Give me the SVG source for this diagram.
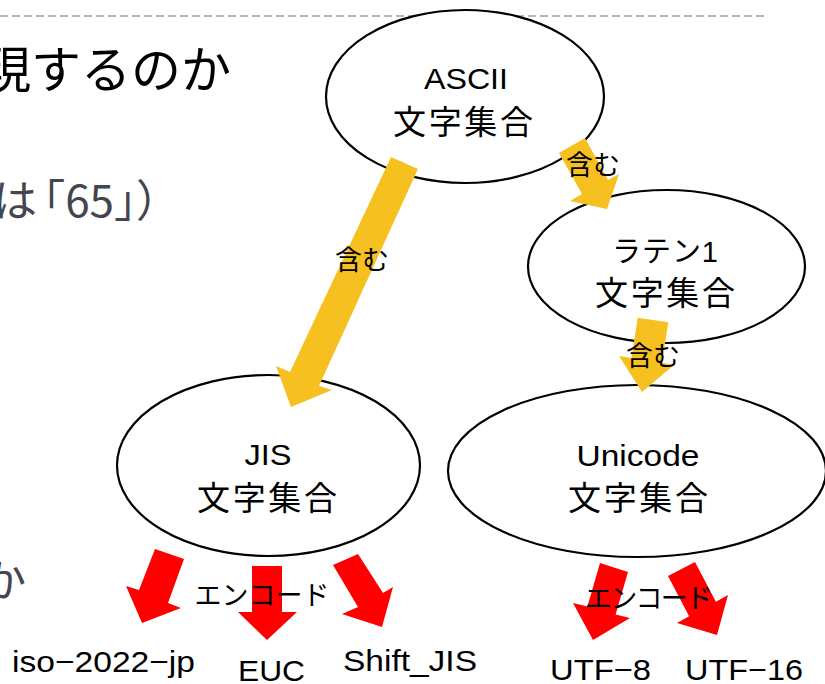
<svg xmlns="http://www.w3.org/2000/svg" width="825" height="684" viewBox="0 0 825 684">
<style>
.bg{font-family:"Noto Sans CJK JP","Noto Sans",sans-serif;fill:#45454f}
.node ellipse{fill:#fff;stroke:#000;stroke-width:2.2}
.lbl{font-family:"Noto Sans CJK JP","Noto Sans",sans-serif;fill:#000;text-anchor:middle}
.lat{font-family:"Liberation Sans","Noto Sans CJK JP",sans-serif;fill:#000;text-anchor:middle}
.yl{fill:#F6C120}
.rd{fill:#FF0000}
.out{font-family:"Liberation Sans","Noto Sans CJK JP",sans-serif;fill:#000;font-size:30px}
</style>
<rect width="825" height="684" fill="#fff"/>
<line x1="0" y1="16" x2="768" y2="16" stroke="#a6bbd0" stroke-width="2" stroke-dasharray="8 4"/>
<g id="background-text">
<text class="bg" x="231" y="88" font-size="50" text-anchor="end" style="fill:#000">現するのか</text>
<text class="bg" x="37" y="217" font-size="44" text-anchor="end">は<tspan x="180">「65」）</tspan></text>
<text class="bg" x="26" y="597" font-size="44" text-anchor="end">か</text>
</g>
<g id="node-ascii" class="node">
<ellipse cx="465" cy="96.5" rx="139" ry="86.5"/>
<text class="lat" x="466" y="89" font-size="30" textLength="84" lengthAdjust="spacingAndGlyphs">ASCII</text>
<text class="lbl" x="463" y="134" font-size="33" textLength="140">文字集合</text>
</g>
<g id="node-latin1" class="node">
<ellipse cx="666.5" cy="266.5" rx="138.5" ry="76.5"/>
<text class="lat" x="665" y="262" font-size="29" textLength="106">ラテン1</text>
<text class="lbl" x="665" y="305" font-size="33" textLength="140">文字集合</text>
</g>
<g id="node-jis" class="node">
<ellipse cx="268.5" cy="465.5" rx="151.5" ry="90.5"/>
<text class="lat" x="268" y="465" font-size="30" textLength="47" lengthAdjust="spacingAndGlyphs">JIS</text>
<text class="lbl" x="267" y="510" font-size="33" textLength="140">文字集合</text>
</g>
<g id="node-unicode" class="node">
<ellipse cx="637" cy="471" rx="189" ry="86"/>
<text class="lat" x="638" y="466" font-size="30" textLength="123" lengthAdjust="spacingAndGlyphs">Unicode</text>
<text class="lbl" x="638" y="510" font-size="33" textLength="140">文字集合</text>
</g>
<g id="connectors">
<polygon class="yl" points="391,157 418,169 319,386 332,390 291,407 276,366 290,372"/>
<text class="lbl" x="362" y="270" font-size="27">含む</text>
<polygon class="yl" points="559,153 585,138 608,180 619,174 607,209 570,201 582,194"/>
<text class="lbl" x="593" y="175" font-size="27">含む</text>
<polygon class="yl" points="637.7,317.7 668.3,322.3 662,363 674.5,364.6 642,392 619,356 631.5,358"/>
<text class="lbl" x="653" y="366" font-size="27">含む</text>
<polygon class="rd" points="155,549 184,559 168,603 181,608 142,623 126,586 139,590"/>
<polygon class="rd" points="252,566 282,566 282,612 297,612 267,640 238,612 252,612"/>
<polygon class="rd" points="333,565 358,554 383,593 393,587 382,627 342,614 358,607"/>
<text class="lbl" x="262" y="605" font-size="27" textLength="135">エンコード</text>
<polygon class="rd" points="600,563 628,572 615.6,614.6 630,618 593,640 573,603 587.4,606.4"/>
<polygon class="rd" points="668,576 695,562 715.9,601.8 728,595 717,635 677,623 689.1,616.2"/>
<text class="lbl" x="649" y="608" font-size="27" textLength="128">エンコード</text>
</g>
<g id="outputs">
<text class="out" x="12" y="672" textLength="183" lengthAdjust="spacingAndGlyphs">iso−2022−jp</text>
<text class="out" x="238" y="681" font-size="32" textLength="67" lengthAdjust="spacingAndGlyphs">EUC</text>
<text class="out" x="343" y="671" textLength="134" lengthAdjust="spacingAndGlyphs">Shift_JIS</text>
<text class="out" x="550" y="680" textLength="101" lengthAdjust="spacingAndGlyphs">UTF−8</text>
<text class="out" x="685" y="680" textLength="118" lengthAdjust="spacingAndGlyphs">UTF−16</text>
</g>
</svg>
